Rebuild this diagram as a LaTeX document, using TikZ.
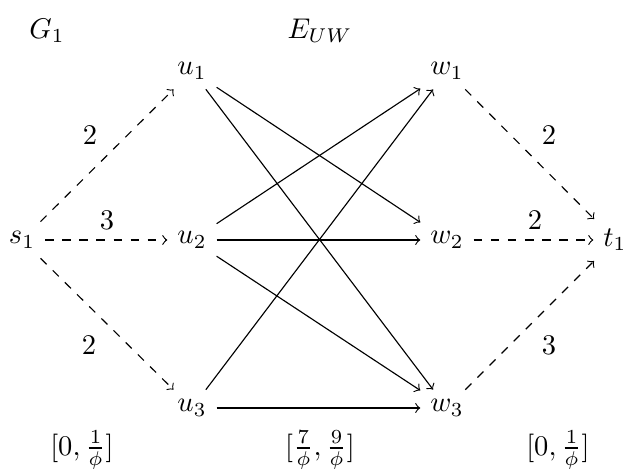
\documentclass[tikz,border=0pt]{standalone}
\begin{document}
\begin{tikzpicture}[x=0.3509pt,y=-0.3509pt,
  vtx/.style={},
  solidedge/.style={->},
  dashededge/.style={->,dashed},
  lbl/.style={}]
\useasboundingbox (0,0) rectangle (628,470);
\node[vtx] (s1) at (22,240) {$s_1$};
\node[vtx] (u1) at (192,71) {$u_1$};
\node[vtx] (u2) at (192,240) {$u_2$};
\node[vtx] (u3) at (192,408) {$u_3$};
\node[vtx] (w1) at (447,71) {$w_1$};
\node[vtx] (w2) at (447,240) {$w_2$};
\node[vtx] (w3) at (447,408) {$w_3$};
\node[vtx] (t1) at (615,240) {$t_1$};
\node[lbl] (g) at (47,31) {$G_1$};
\node[lbl] (e) at (320,31) {$E_{UW}$};
\node[lbl] (b1) at (82,450) {$[0, \frac{1}{\phi}]$};
\node[lbl] (b2) at (320,450) {$[\frac{7}{\phi}, \frac{9}{\phi}]$};
\node[lbl] (b3) at (558,450) {$[0, \frac{1}{\phi}]$};
\draw[dashededge] (s1) -- (u1);
\draw[dashededge] (s1) -- (u2);
\draw[dashededge] (s1) -- (u3);
\draw[dashededge] (w1) -- (t1);
\draw[dashededge] (w2) -- (t1);
\draw[dashededge] (w3) -- (t1);
\node[lbl] (l1) at (90,135) {$2$};
\node[lbl] (l2) at (107,220) {$3$};
\node[lbl] (l3) at (89,345) {$2$};
\node[lbl] (l4) at (549,135) {$2$};
\node[lbl] (l5) at (535,220) {$2$};
\node[lbl] (l6) at (549,345) {$3$};
\draw[solidedge] (u1) -- (w2);
\draw[solidedge] (u1) -- (w3);
\draw[solidedge] (u2) -- (w1);
\draw[solidedge] (u2) -- (w2);
\draw[solidedge] (u2) -- (w3);
\draw[solidedge] (u3) -- (w1);
\draw[solidedge] (u3) -- (w3);
\end{tikzpicture}
\end{document}
